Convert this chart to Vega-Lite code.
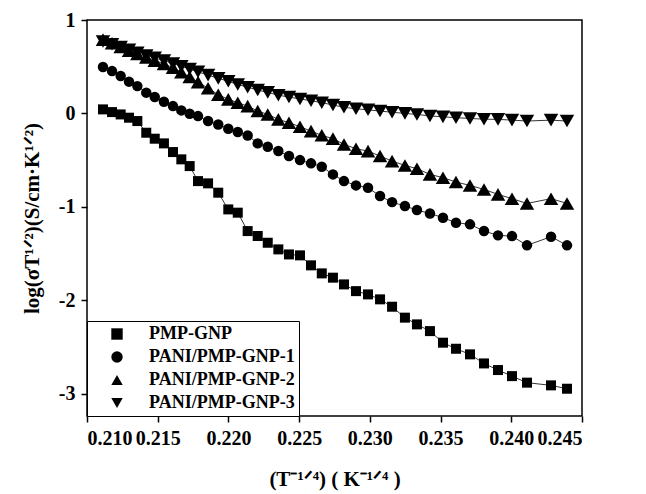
{
  "$schema": "https://vega.github.io/schema/vega-lite/v6.json",
  "width": 495,
  "height": 396,
  "autosize": "none",
  "padding": {"left": 87, "top": 20, "right": 64, "bottom": 78},
  "background": "white",
  "config": {
    "view": {"stroke": "black", "strokeWidth": 1.5},
    "font": "Liberation Serif",
    "axis": {"grid": false, "domain": false, "tickColor": "black", "tickWidth": 1.5, "tickSize": 6, "labelFont": "Liberation Serif", "labelFontWeight": "bold", "labelFontSize": 20, "labelColor": "black", "titleFont": "Liberation Serif", "titleFontWeight": "bold", "titleFontSize": 21, "titleColor": "black"}
  },
  "data": {"values": [
    {"s":"PMP-GNP","x":0.21113,"y":0.043},{"s":"PMP-GNP","x":0.21177,"y":0.014},{"s":"PMP-GNP","x":0.21238,"y":-0.011},{"s":"PMP-GNP","x":0.21297,"y":-0.046},{"s":"PMP-GNP","x":0.21356,"y":-0.082},{"s":"PMP-GNP","x":0.21419,"y":-0.207},{"s":"PMP-GNP","x":0.21479,"y":-0.271},{"s":"PMP-GNP","x":0.21544,"y":-0.321},{"s":"PMP-GNP","x":0.21608,"y":-0.414},{"s":"PMP-GNP","x":0.21667,"y":-0.492},{"s":"PMP-GNP","x":0.21726,"y":-0.564},{"s":"PMP-GNP","x":0.21785,"y":-0.725},{"s":"PMP-GNP","x":0.21856,"y":-0.749},{"s":"PMP-GNP","x":0.21928,"y":-0.849},{"s":"PMP-GNP","x":0.21999,"y":-1.028},{"s":"PMP-GNP","x":0.22066,"y":-1.063},{"s":"PMP-GNP","x":0.22136,"y":-1.26},{"s":"PMP-GNP","x":0.22207,"y":-1.313},{"s":"PMP-GNP","x":0.22278,"y":-1.385},{"s":"PMP-GNP","x":0.22353,"y":-1.456},{"s":"PMP-GNP","x":0.22428,"y":-1.51},{"s":"PMP-GNP","x":0.22506,"y":-1.52},{"s":"PMP-GNP","x":0.22584,"y":-1.627},{"s":"PMP-GNP","x":0.2266,"y":-1.713},{"s":"PMP-GNP","x":0.22739,"y":-1.759},{"s":"PMP-GNP","x":0.22817,"y":-1.831},{"s":"PMP-GNP","x":0.22902,"y":-1.903},{"s":"PMP-GNP","x":0.22987,"y":-1.938},{"s":"PMP-GNP","x":0.23072,"y":-1.991},{"s":"PMP-GNP","x":0.23157,"y":-2.07},{"s":"PMP-GNP","x":0.23248,"y":-2.187},{"s":"PMP-GNP","x":0.23333,"y":-2.259},{"s":"PMP-GNP","x":0.23425,"y":-2.331},{"s":"PMP-GNP","x":0.23517,"y":-2.455},{"s":"PMP-GNP","x":0.23609,"y":-2.52},{"s":"PMP-GNP","x":0.23708,"y":-2.58},{"s":"PMP-GNP","x":0.23807,"y":-2.677},{"s":"PMP-GNP","x":0.23906,"y":-2.748},{"s":"PMP-GNP","x":0.24005,"y":-2.813},{"s":"PMP-GNP","x":0.24111,"y":-2.883},{"s":"PMP-GNP","x":0.24281,"y":-2.912},{"s":"PMP-GNP","x":0.24394,"y":-2.948},
    {"s":"PANI/PMP-GNP-1","x":0.21113,"y":0.496},{"s":"PANI/PMP-GNP-1","x":0.21177,"y":0.453},{"s":"PANI/PMP-GNP-1","x":0.21238,"y":0.4},{"s":"PANI/PMP-GNP-1","x":0.21297,"y":0.34},{"s":"PANI/PMP-GNP-1","x":0.21356,"y":0.292},{"s":"PANI/PMP-GNP-1","x":0.21419,"y":0.222},{"s":"PANI/PMP-GNP-1","x":0.21479,"y":0.175},{"s":"PANI/PMP-GNP-1","x":0.21544,"y":0.125},{"s":"PANI/PMP-GNP-1","x":0.21608,"y":0.078},{"s":"PANI/PMP-GNP-1","x":0.21667,"y":0.032},{"s":"PANI/PMP-GNP-1","x":0.21726,"y":-0.003},{"s":"PANI/PMP-GNP-1","x":0.21785,"y":-0.029},{"s":"PANI/PMP-GNP-1","x":0.21856,"y":-0.082},{"s":"PANI/PMP-GNP-1","x":0.21928,"y":-0.118},{"s":"PANI/PMP-GNP-1","x":0.21999,"y":-0.164},{"s":"PANI/PMP-GNP-1","x":0.22066,"y":-0.2},{"s":"PANI/PMP-GNP-1","x":0.22136,"y":-0.236},{"s":"PANI/PMP-GNP-1","x":0.22207,"y":-0.321},{"s":"PANI/PMP-GNP-1","x":0.22278,"y":-0.357},{"s":"PANI/PMP-GNP-1","x":0.22353,"y":-0.403},{"s":"PANI/PMP-GNP-1","x":0.22428,"y":-0.457},{"s":"PANI/PMP-GNP-1","x":0.22506,"y":-0.5},{"s":"PANI/PMP-GNP-1","x":0.22584,"y":-0.535},{"s":"PANI/PMP-GNP-1","x":0.2266,"y":-0.571},{"s":"PANI/PMP-GNP-1","x":0.22739,"y":-0.653},{"s":"PANI/PMP-GNP-1","x":0.22817,"y":-0.725},{"s":"PANI/PMP-GNP-1","x":0.22902,"y":-0.771},{"s":"PANI/PMP-GNP-1","x":0.22987,"y":-0.796},{"s":"PANI/PMP-GNP-1","x":0.23072,"y":-0.885},{"s":"PANI/PMP-GNP-1","x":0.23157,"y":-0.95},{"s":"PANI/PMP-GNP-1","x":0.23248,"y":-0.992},{"s":"PANI/PMP-GNP-1","x":0.23333,"y":-1.035},{"s":"PANI/PMP-GNP-1","x":0.23425,"y":-1.071},{"s":"PANI/PMP-GNP-1","x":0.23517,"y":-1.117},{"s":"PANI/PMP-GNP-1","x":0.23609,"y":-1.17},{"s":"PANI/PMP-GNP-1","x":0.23708,"y":-1.188},{"s":"PANI/PMP-GNP-1","x":0.23807,"y":-1.26},{"s":"PANI/PMP-GNP-1","x":0.23906,"y":-1.306},{"s":"PANI/PMP-GNP-1","x":0.24005,"y":-1.314},{"s":"PANI/PMP-GNP-1","x":0.24111,"y":-1.413},{"s":"PANI/PMP-GNP-1","x":0.24281,"y":-1.32},{"s":"PANI/PMP-GNP-1","x":0.24394,"y":-1.413},
    {"s":"PANI/PMP-GNP-2","x":0.21113,"y":0.79},{"s":"PANI/PMP-GNP-2","x":0.21177,"y":0.75},{"s":"PANI/PMP-GNP-2","x":0.21238,"y":0.71},{"s":"PANI/PMP-GNP-2","x":0.21297,"y":0.67},{"s":"PANI/PMP-GNP-2","x":0.21356,"y":0.635},{"s":"PANI/PMP-GNP-2","x":0.21419,"y":0.6},{"s":"PANI/PMP-GNP-2","x":0.21479,"y":0.565},{"s":"PANI/PMP-GNP-2","x":0.21544,"y":0.53},{"s":"PANI/PMP-GNP-2","x":0.21608,"y":0.49},{"s":"PANI/PMP-GNP-2","x":0.21667,"y":0.44},{"s":"PANI/PMP-GNP-2","x":0.21726,"y":0.39},{"s":"PANI/PMP-GNP-2","x":0.21785,"y":0.335},{"s":"PANI/PMP-GNP-2","x":0.21856,"y":0.27},{"s":"PANI/PMP-GNP-2","x":0.21928,"y":0.2},{"s":"PANI/PMP-GNP-2","x":0.21999,"y":0.15},{"s":"PANI/PMP-GNP-2","x":0.22066,"y":0.115},{"s":"PANI/PMP-GNP-2","x":0.22136,"y":0.078},{"s":"PANI/PMP-GNP-2","x":0.22207,"y":0.025},{"s":"PANI/PMP-GNP-2","x":0.22278,"y":-0.011},{"s":"PANI/PMP-GNP-2","x":0.22353,"y":-0.064},{"s":"PANI/PMP-GNP-2","x":0.22428,"y":-0.1},{"s":"PANI/PMP-GNP-2","x":0.22506,"y":-0.142},{"s":"PANI/PMP-GNP-2","x":0.22584,"y":-0.19},{"s":"PANI/PMP-GNP-2","x":0.2266,"y":-0.235},{"s":"PANI/PMP-GNP-2","x":0.22739,"y":-0.27},{"s":"PANI/PMP-GNP-2","x":0.22817,"y":-0.332},{"s":"PANI/PMP-GNP-2","x":0.22902,"y":-0.378},{"s":"PANI/PMP-GNP-2","x":0.22987,"y":-0.404},{"s":"PANI/PMP-GNP-2","x":0.23072,"y":-0.457},{"s":"PANI/PMP-GNP-2","x":0.23157,"y":-0.511},{"s":"PANI/PMP-GNP-2","x":0.23248,"y":-0.557},{"s":"PANI/PMP-GNP-2","x":0.23333,"y":-0.592},{"s":"PANI/PMP-GNP-2","x":0.23425,"y":-0.653},{"s":"PANI/PMP-GNP-2","x":0.23517,"y":-0.688},{"s":"PANI/PMP-GNP-2","x":0.23609,"y":-0.735},{"s":"PANI/PMP-GNP-2","x":0.23708,"y":-0.771},{"s":"PANI/PMP-GNP-2","x":0.23807,"y":-0.814},{"s":"PANI/PMP-GNP-2","x":0.23906,"y":-0.867},{"s":"PANI/PMP-GNP-2","x":0.24005,"y":-0.913},{"s":"PANI/PMP-GNP-2","x":0.24111,"y":-0.964},{"s":"PANI/PMP-GNP-2","x":0.24281,"y":-0.913},{"s":"PANI/PMP-GNP-2","x":0.24394,"y":-0.964},
    {"s":"PANI/PMP-GNP-3","x":0.21113,"y":0.77},{"s":"PANI/PMP-GNP-3","x":0.21177,"y":0.74},{"s":"PANI/PMP-GNP-3","x":0.21238,"y":0.71},{"s":"PANI/PMP-GNP-3","x":0.21297,"y":0.68},{"s":"PANI/PMP-GNP-3","x":0.21356,"y":0.65},{"s":"PANI/PMP-GNP-3","x":0.21419,"y":0.62},{"s":"PANI/PMP-GNP-3","x":0.21479,"y":0.595},{"s":"PANI/PMP-GNP-3","x":0.21544,"y":0.565},{"s":"PANI/PMP-GNP-3","x":0.21608,"y":0.535},{"s":"PANI/PMP-GNP-3","x":0.21667,"y":0.505},{"s":"PANI/PMP-GNP-3","x":0.21726,"y":0.475},{"s":"PANI/PMP-GNP-3","x":0.21785,"y":0.445},{"s":"PANI/PMP-GNP-3","x":0.21856,"y":0.41},{"s":"PANI/PMP-GNP-3","x":0.21928,"y":0.375},{"s":"PANI/PMP-GNP-3","x":0.21999,"y":0.345},{"s":"PANI/PMP-GNP-3","x":0.22066,"y":0.31},{"s":"PANI/PMP-GNP-3","x":0.22136,"y":0.28},{"s":"PANI/PMP-GNP-3","x":0.22207,"y":0.25},{"s":"PANI/PMP-GNP-3","x":0.22278,"y":0.225},{"s":"PANI/PMP-GNP-3","x":0.22353,"y":0.195},{"s":"PANI/PMP-GNP-3","x":0.22428,"y":0.175},{"s":"PANI/PMP-GNP-3","x":0.22506,"y":0.155},{"s":"PANI/PMP-GNP-3","x":0.22584,"y":0.135},{"s":"PANI/PMP-GNP-3","x":0.2266,"y":0.115},{"s":"PANI/PMP-GNP-3","x":0.22739,"y":0.09},{"s":"PANI/PMP-GNP-3","x":0.22817,"y":0.065},{"s":"PANI/PMP-GNP-3","x":0.22902,"y":0.05},{"s":"PANI/PMP-GNP-3","x":0.22987,"y":0.038},{"s":"PANI/PMP-GNP-3","x":0.23072,"y":0.025},{"s":"PANI/PMP-GNP-3","x":0.23157,"y":0.012},{"s":"PANI/PMP-GNP-3","x":0.23248,"y":0.0},{"s":"PANI/PMP-GNP-3","x":0.23333,"y":-0.011},{"s":"PANI/PMP-GNP-3","x":0.23425,"y":-0.027},{"s":"PANI/PMP-GNP-3","x":0.23517,"y":-0.037},{"s":"PANI/PMP-GNP-3","x":0.23609,"y":-0.046},{"s":"PANI/PMP-GNP-3","x":0.23708,"y":-0.054},{"s":"PANI/PMP-GNP-3","x":0.23807,"y":-0.062},{"s":"PANI/PMP-GNP-3","x":0.23906,"y":-0.064},{"s":"PANI/PMP-GNP-3","x":0.24005,"y":-0.072},{"s":"PANI/PMP-GNP-3","x":0.24111,"y":-0.082},{"s":"PANI/PMP-GNP-3","x":0.24281,"y":-0.072},{"s":"PANI/PMP-GNP-3","x":0.24394,"y":-0.082}
  ]},
  "encoding": {
    "x": {"field": "x", "type": "quantitative", "scale": {"domain": [0.21, 0.245], "nice": false, "zero": false},
      "axis": {"values": [0.21, 0.215, 0.22, 0.225, 0.23, 0.235, 0.24, 0.245], "format": ".3f", "labelPadding": 6, "title": "(T⁻¹ᐟ⁴) ( K⁻¹ᐟ⁴ )", "titlePadding": 20}},
    "y": {"field": "y", "type": "quantitative", "scale": {"domain": [-3.24, 1], "nice": false, "zero": false},
      "axis": {"values": [-3, -2, -1, 0, 1], "labelExpr": "toString(datum.value)", "labelPadding": 6, "title": "log(σT¹ᐟ²)(S/cm·K¹ᐟ²)", "titlePadding": 16}}
  },
  "layer": [
    {"mark": {"type": "line", "color": "black", "strokeWidth": 0.8}, "encoding": {"detail": {"field": "s"}}},
    {"mark": {"type": "point", "filled": true, "color": "black", "opacity": 1, "strokeWidth": 0},
     "encoding": {
       "shape": {"field": "s", "type": "nominal",
         "scale": {"domain": ["PMP-GNP", "PANI/PMP-GNP-1", "PANI/PMP-GNP-2", "PANI/PMP-GNP-3"], "range": ["square", "circle", "triangle-up", "triangle-down"]},
         "legend": {"title": null, "orient": "bottom-left", "offset": 0, "strokeColor": "black", "fillColor": "white", "padding": 4,
           "labelFont": "Liberation Serif", "labelFontWeight": "bold", "labelFontSize": 18, "labelColor": "black", "labelOffset": 23, "symbolOffset": 17, "rowPadding": 5,
           "labelExpr": "datum.label + '\u00a0\u00a0\u00a0\u00a0\u00a0'",
           "symbolSize": 130, "symbolFillColor": "black", "symbolStrokeColor": "black", "symbolStrokeWidth": 0, "symbolOpacity": 1}},
       "size": {"condition": [{"test": "datum.s === 'PMP-GNP'", "value": 100}, {"test": "datum.s === 'PANI/PMP-GNP-1'", "value": 110}], "value": 210}
     }}
  ]
}
